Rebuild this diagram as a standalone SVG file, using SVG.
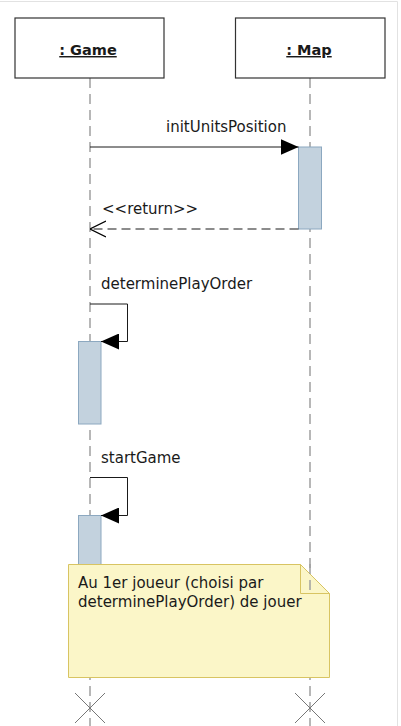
<svg xmlns="http://www.w3.org/2000/svg" width="401" height="726" viewBox="0 0 401 726">
<style>
.box{fill:#fff;stroke:#333;stroke-width:1.2}
.title{font-family:"DejaVu Sans",Verdana,sans-serif;font-size:14.5px;font-weight:bold;fill:#1a1a1a;text-decoration:underline;text-anchor:middle}
.life{stroke:#a0a0a0;stroke-width:1.5;stroke-dasharray:10,6;fill:none}
.act{fill:#c3d2de;stroke:#8ca8c0;stroke-width:1}
.msg{stroke:#1a1a1a;stroke-width:1;fill:none}
.ret{stroke:#1a1a1a;stroke-width:1.2;fill:none;stroke-dasharray:9,5}
.lbl{font-family:"DejaVu Sans",Verdana,sans-serif;font-size:15px;fill:#1a1a1a}
.x{stroke:#777;stroke-width:1}
.note{fill:#fbf6c8;stroke:#d8c462;stroke-width:1}
</style>
<defs>
<marker id="fill" viewBox="0 0 18 16" refX="18" refY="8" markerWidth="18" markerHeight="16" markerUnits="userSpaceOnUse" orient="auto">
<path d="M0,0 L18,8 L0,16 Z" fill="#000"/>
</marker>
<marker id="open" viewBox="0 0 16 18" refX="16" refY="9" markerWidth="16" markerHeight="18" markerUnits="userSpaceOnUse" orient="auto">
<path d="M0,1 L16,9 L0,17" fill="none" stroke="#000" stroke-width="1.3"/>
</marker>
</defs>
<rect width="401" height="726" fill="#fff"/>
<path d="M0,1.5 H397.5 V726" fill="none" stroke="#e2e2e2" stroke-width="1"/>
<g id="lifelines">
<line class="life" x1="90" y1="78" x2="90" y2="726"/>
<line class="life" x1="310" y1="78" x2="310" y2="726"/>
</g>
<g id="game">
<rect class="box" x="15" y="18" width="149" height="60"/>
<text class="title" x="88" y="55">: Game</text>
</g>
<g id="map">
<rect class="box" x="235.5" y="18" width="149.5" height="60"/>
<text class="title" x="309" y="55">: Map</text>
</g>
<g id="activations">
<rect class="act" x="298.5" y="147" width="23" height="82"/>
<rect class="act" x="78.5" y="341.5" width="22.5" height="82.5"/>
<rect class="act" x="78.5" y="515.5" width="22.5" height="60"/>
</g>
<g id="connectors">
<line class="msg" x1="90" y1="147" x2="298.5" y2="147" marker-end="url(#fill)"/>
<line class="ret" x1="298.5" y1="229" x2="90" y2="229" marker-end="url(#open)"/>
<polyline class="msg" points="90,304 127.5,304 127.5,341.5 101,341.5" marker-end="url(#fill)"/>
<polyline class="msg" points="90,477.5 127.5,477.5 127.5,515.5 101,515.5" marker-end="url(#fill)"/>
</g>
<g id="labels">
<text class="lbl" x="166" y="132">initUnitsPosition</text>
<text class="lbl" x="102" y="214">&lt;&lt;return&gt;&gt;</text>
<text class="lbl" x="101" y="289">determinePlayOrder</text>
<text class="lbl" x="101" y="463">startGame</text>
</g>
<g id="note">
<path class="note" d="M68.5,564.5 H300.5 L329.5,593.5 V677.5 H68.5 Z"/>
<path class="note" d="M300.5,564.5 V593.5 H329.5 Z"/>
<line class="life" x1="310" y1="564" x2="310" y2="593"/>
<text class="lbl" x="78" y="588">Au 1er joueur (choisi par</text>
<text class="lbl" x="78" y="607">determinePlayOrder) de jouer</text>
</g>
<g id="destroy">
<path class="x" d="M75,693 L105,723 M105,693 L75,723"/>
<path class="x" d="M295,693 L325,723 M325,693 L295,723"/>
</g>
</svg>
